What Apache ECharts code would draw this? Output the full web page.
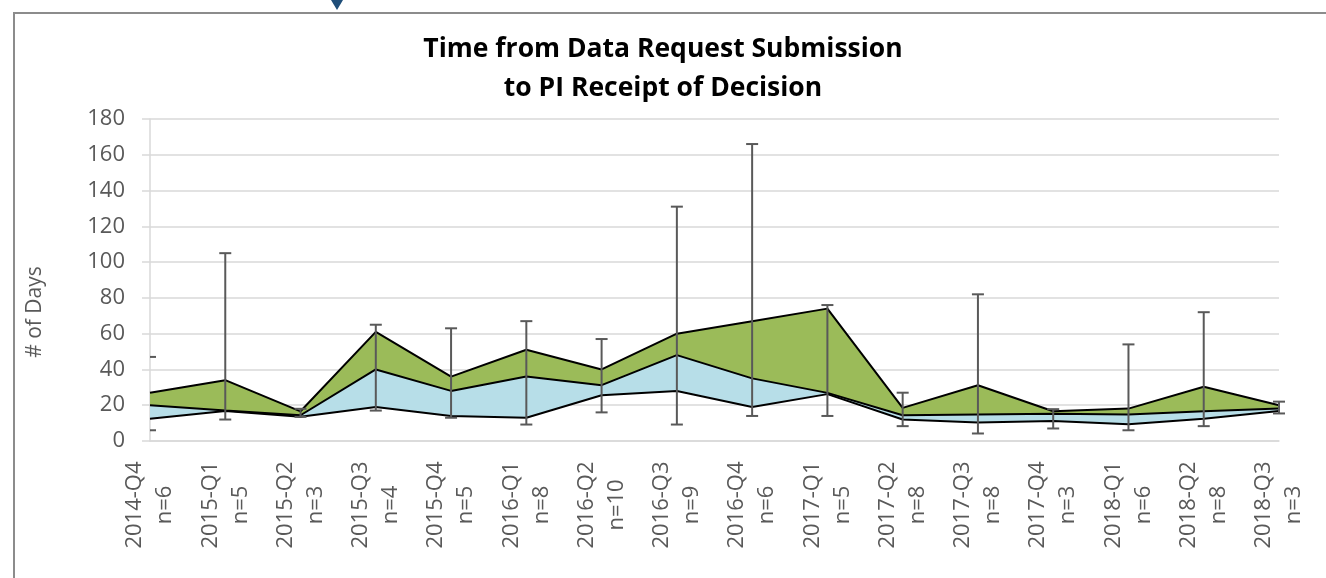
<!DOCTYPE html>
<html>
<head>
<meta charset="utf-8">
<script src="https://cdn.jsdelivr.net/npm/echarts@6/dist/echarts.min.js"></script>
<style>
  html, body { margin: 0; padding: 0; background: #fff; }
  #chart { width: 1326px; height: 578px; }
</style>
</head>
<body>
<div id="chart"></div>
<script>
// quarters and sample counts
var quarters = ['2014-Q4', '2015-Q1', '2015-Q2', '2015-Q3', '2015-Q4', '2016-Q1', '2016-Q2', '2016-Q3',
  '2016-Q4', '2017-Q1', '2017-Q2', '2017-Q3', '2017-Q4', '2018-Q1', '2018-Q2', '2018-Q3'];
var counts = [6, 5, 3, 4, 5, 8, 10, 9, 6, 5, 8, 8, 3, 6, 8, 3];

// days: quartiles and min / max
var q1Days = [12.4, 16.8, 13.6, 19, 14, 13, 25.6, 28, 19, 26.2, 12, 10.3, 11.2, 9.4, 12.5, 16.8];
var medianDays = [20, 17, 14.4, 40, 28, 36, 31.2, 48, 35, 26.9, 14.4, 14.8, 15.2, 14.8, 16.6, 18.1];
var q3Days = [27, 34, 16.6, 61, 36, 51, 40, 60, 67, 74, 18.5, 31.2, 16.6, 18.1, 30.3, 20];
var minDays = [6, 12, 13.5, 17, 13, 9.2, 16, 9.2, 14, 14, 8.3, 4.2, 7, 6, 8.3, 15.4];
var maxDays = [47, 105, 18, 65, 63, 67, 57, 131, 166, 76, 27, 82, 17.8, 54, 72, 22];

var yTicks = { min: 0, max: 180, interval: 20 };

var labels = quarters.map(function (q, i) { return q + '\nn=' + counts[i] });
var blueBand = medianDays.map(function (v, i) { return +(v - q1Days[i]).toFixed(2) });
var greenBand = q3Days.map(function (v, i) { return +(v - medianDays[i]).toFixed(2) });
var errorData = quarters.map(function (q, i) { return [i, minDays[i], maxDays[i]] });

var font = '"Open Sans", sans-serif';

function renderErrorBar(params, api) {
  var low = api.coord([api.value(0), api.value(1)]);
  var high = api.coord([api.value(0), api.value(2)]);
  var left = params.coordSys.x;
  var half = 6;
  var style = { stroke: '#595959', lineWidth: 2 };
  var capLeft = Math.max(low[0] - half, left);
  var children = [];
  // bar sitting on the plot edge only shows half of its caps
  if (low[0] - left > 1) {
    children.push({ type: 'line', shape: { x1: low[0], y1: low[1], x2: high[0], y2: high[1] }, style: style });
  }
  children.push({ type: 'line', shape: { x1: capLeft, y1: high[1], x2: high[0] + half, y2: high[1] }, style: style });
  children.push({ type: 'line', shape: { x1: capLeft, y1: low[1], x2: low[0] + half, y2: low[1] }, style: style });
  return { type: 'group', children: children };
}

var myChart = echarts.init(document.getElementById('chart'));
var option = {
  animation: false,
  title: {
    text: 'Time from Data Request Submission\nto PI Receipt of Decision',
    left: 'center',
    top: 25,
    textStyle: { fontFamily: font, fontWeight: 'bold', fontSize: 26.5, lineHeight: 39, color: '#000' }
  },
  grid: { left: 150, right: 47, top: 119, bottom: 137 },
  xAxis: {
    type: 'category',
    data: labels,
    boundaryGap: false,
    axisLine: { lineStyle: { color: '#d9d9d9', width: 1.5 } },
    axisTick: { show: false },
    axisLabel: {
      rotate: 90,
      interval: 0,
      margin: 64,
      align: 'center',
      verticalAlign: 'middle',
      lineHeight: 30,
      fontFamily: font,
      fontSize: 22,
      color: '#595959'
    }
  },
  yAxis: {
    type: 'value',
    min: yTicks.min,
    max: yTicks.max,
    interval: yTicks.interval,
    axisLine: { show: true, lineStyle: { color: '#d9d9d9', width: 1.5 } },
    axisTick: { show: true, length: 8, lineStyle: { color: '#d9d9d9', width: 1.5 } },
    splitLine: { lineStyle: { color: '#d9d9d9', width: 1.5 } },
    axisLabel: { margin: 25, fontFamily: font, fontSize: 22, color: '#595959' }
  },
  graphic: [
    { type: 'polyline', shape: { points: [[14, 578], [14, 13], [1326, 13]] }, style: { stroke: '#8c8c8c', lineWidth: 2, fill: null } },
    { type: 'polygon', shape: { points: [[331, 0], [343, 0], [337, 10]] }, style: { fill: '#1f4e79' } },
    {
      type: 'text', x: 35, y: 312, rotation: Math.PI / 2,
      style: { text: '# of Days', fontFamily: font, fontSize: 21, fill: '#595959', align: 'center', verticalAlign: 'middle' }
    }
  ],
  series: [
    {
      name: 'Q1', type: 'line', stack: 'days', symbol: 'none',
      lineStyle: { color: '#000', width: 2 },
      data: q1Days, z: 3
    },
    {
      name: 'Median', type: 'line', stack: 'days', symbol: 'none',
      lineStyle: { color: '#000', width: 2 },
      areaStyle: { color: '#b7dee8', opacity: 1 },
      data: blueBand, z: 2
    },
    {
      name: 'Q3', type: 'line', stack: 'days', symbol: 'none',
      lineStyle: { color: '#000', width: 2 },
      areaStyle: { color: '#9bbb59', opacity: 1 },
      data: greenBand, z: 2
    },
    {
      name: 'Range', type: 'custom',
      renderItem: renderErrorBar,
      encode: { x: 0, y: [1, 2] },
      data: errorData, z: 5
    }
  ]
};
option && myChart.setOption(option);
window.addEventListener('resize', myChart.resize);
</script>
</body>
</html>
